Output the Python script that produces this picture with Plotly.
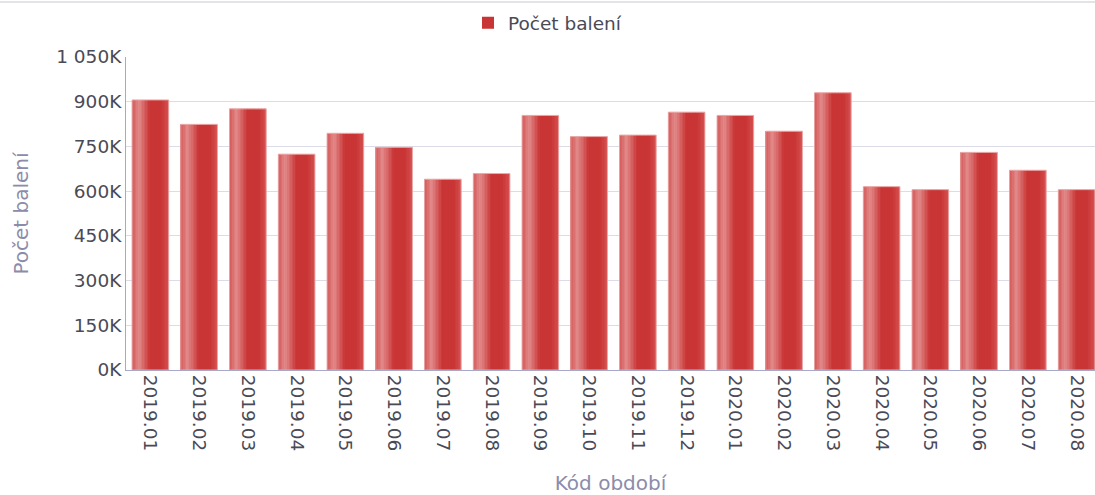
import plotly.graph_objects as go

# monthly counts of packages
periods = ['2019.01', '2019.02', '2019.03', '2019.04', '2019.05', '2019.06',
           '2019.07', '2019.08', '2019.09', '2019.10', '2019.11', '2019.12',
           '2020.01', '2020.02', '2020.03', '2020.04', '2020.05', '2020.06',
           '2020.07', '2020.08']
packages = [906000, 824000, 876000, 724000, 794000, 747000,
            640000, 659000, 854000, 783000, 788000, 865000,
            854000, 801000, 930000, 615000, 605000, 730000,
            670000, 605000]

y_ticks = [0, 150000, 300000, 450000, 600000, 750000, 900000, 1050000]
y_tick_labels = ['0K', '150K', '300K', '450K', '600K', '750K', '900K', '1 050K']

# horizontal gradient of the bars: (position across bar, rgb)
stops = [(0.0, (212, 84, 84)), (0.2, (226, 138, 138)), (0.5, (201, 52, 52)),
         (0.8, (201, 52, 52)), (1.0, (212, 80, 80))]

def shade(t):
	for (t0, c0), (t1, c1) in zip(stops[:-1], stops[1:]):
		if t0 <= t <= t1:
			f = (t - t0) / (t1 - t0)
			return 'rgb({},{},{})'.format(*[round(a + (b - a) * f) for a, b in zip(c0, c1)])
	return 'rgb(201,52,52)'

bar_w = 0.75
strips = 24
step = bar_w / strips

fig = go.Figure()

for i in range(strips):
	fig.add_trace(go.Bar(x=periods, y=packages,
			width=step * 1.05, offset=-bar_w / 2 + i * step,
			marker_color=shade((i + 0.5) / strips),
			marker_line_width=0,
			name='Počet balení',
			showlegend=(i == 14),
			hoverinfo='skip' if i != 14 else None))

# thin light outline
fig.add_trace(go.Bar(x=periods, y=packages, width=bar_w, offset=-bar_w / 2,
		marker_color='rgba(0,0,0,0)',
		marker_line=dict(color='#eaa8a8', width=1),
		showlegend=False, hoverinfo='skip'))

fig.update_layout(
	width=1095, height=495,
	barmode='overlay',
	plot_bgcolor='white', paper_bgcolor='white',
	margin=dict(l=126, r=0, t=57, b=125),
	font=dict(family='DejaVu Sans', size=18.5, color='#4a4a56'),
	legend=dict(orientation='h', xref='container', yref='container',
			x=0.5, xanchor='center', y=0.953, yanchor='middle',
			font=dict(size=18.5, color='#4a4a56')),
	shapes=[dict(type='line', xref='paper', yref='paper',
			x0=-0.2, x1=1, y0=1 + 55 / 313, y1=1 + 55 / 313,
			line=dict(color='#c8c8d0', width=1))])

fig.update_xaxes(
	range=[-0.5, 19.377],
	tickangle=90,
	tickfont=dict(size=18.5),
	showline=True, linecolor='#a8a8c8', linewidth=1,
	ticks='', showgrid=False,
	title=dict(text='Kód období', font=dict(size=20, color='#8c8caa'), standoff=28))

fig.update_yaxes(
	range=[0, 1050000],
	tickvals=y_ticks, ticktext=y_tick_labels,
	tickfont=dict(size=18.5),
	showline=True, linecolor='#a8a8c8', linewidth=1,
	gridcolor='#dcdce8', gridwidth=1,
	zeroline=False, ticks='',
	title=dict(text='Počet balení', font=dict(size=20, color='#8c8caa'), standoff=22))

# page body margin would push the fixed-size figure off by 8px
fig.write_html("out.html", config={'displayModeBar': False},
		post_script="document.body.style.margin='0';")
